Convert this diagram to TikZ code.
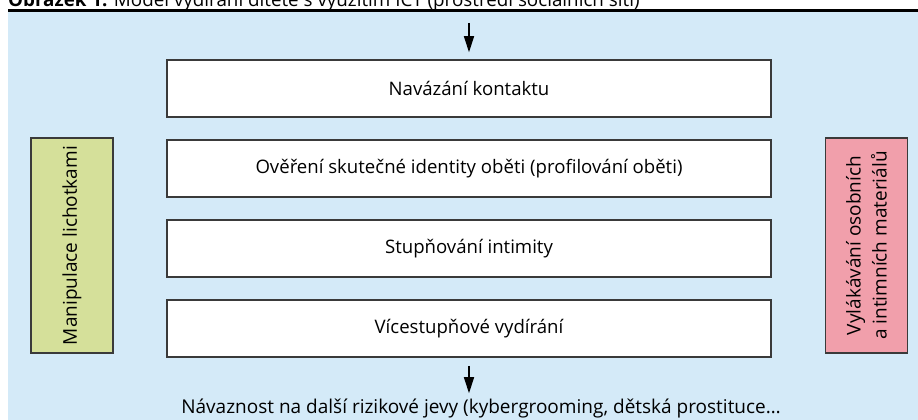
\documentclass[tikz,border=0pt]{standalone}
\usepackage{fontspec}
\setmainfont{Open Sans}
\usetikzlibrary{arrows.meta,positioning}
\definecolor{panelblue}{HTML}{D4EAF8}
\definecolor{flattergreen}{HTML}{D5E09A}
\definecolor{lurepink}{HTML}{F19FAB}
\definecolor{edgegray}{HTML}{3A3A3A}
\tikzset{
    line/.style={
        line width=1.5pt,
        draw=edgegray
    },
    arrow/.style={
        line width=1.3pt,
        -{Triangle[length=16pt, width=10pt]}
    },
    stage/.style={
        line,
        fill=white,
        minimum width=604pt,
        minimum height=57pt,
        inner sep=0pt,
        font=\fontsize{18.6}{22}\selectfont
    },
    side/.style={
        line,
        rotate=90,
        minimum width=215pt,
        minimum height=82pt,
        inner sep=0pt,
        align=center,
        font=\fontsize{19}{26}\selectfont
    }
}

\begin{document}
\begin{tikzpicture}[x=1pt, y=-1pt]
    \useasboundingbox (0, 0) rectangle (918, 420);
    % Panel:
    \fill [panelblue] (8, 12) rectangle (918, 420);
    \draw [line width=3pt] (8, 10.5) -- (918, 10.5);
    \node (caption) [anchor=base west, inner sep=0pt, font=\fontsize{18.8}{22}\selectfont] at (8, 7)
        {\textbf{Obrázek 1:} Model vydírání dítěte s využitím ICT (prostředí sociálních sítí)};
    % Stages:
    \node (contact) [stage] at (469, 88.5) {Navázání kontaktu};
    \node (identity) [stage, below=21.5pt of contact] {Ověření skutečné identity oběti (profilování oběti)};
    \node (intimacy) [stage, below=21.5pt of identity] {Stupňování intimity};
    \node (extortion) [stage, below=21.5pt of intimacy] {Vícestupňové vydírání};
    % Side bars:
    \node (flattery) [side, fill=flattergreen] at (72, 245.5) {Manipulace lichotkami};
    \node (luring) [side, fill=lurepink] at (866.5, 245.5) {Vylákávání osobních\\a intimních materiálů};
    % Outcome:
    \node (follow) [anchor=base, inner sep=0pt, font=\fontsize{19}{22}\selectfont] at (481, 413)
        {Návaznost na další rizikové jevy (kybergrooming, dětská prostituce…};
    % Flow:
    \coordinate (entry) at (469, 23);
    \draw [arrow] (entry) -- ([yshift=7pt] entry |- contact.north);
    \draw [arrow] ([yshift=-8pt] extortion.south -| entry) -- ([yshift=5pt] follow.north -| entry);
\end{tikzpicture}
\end{document}
